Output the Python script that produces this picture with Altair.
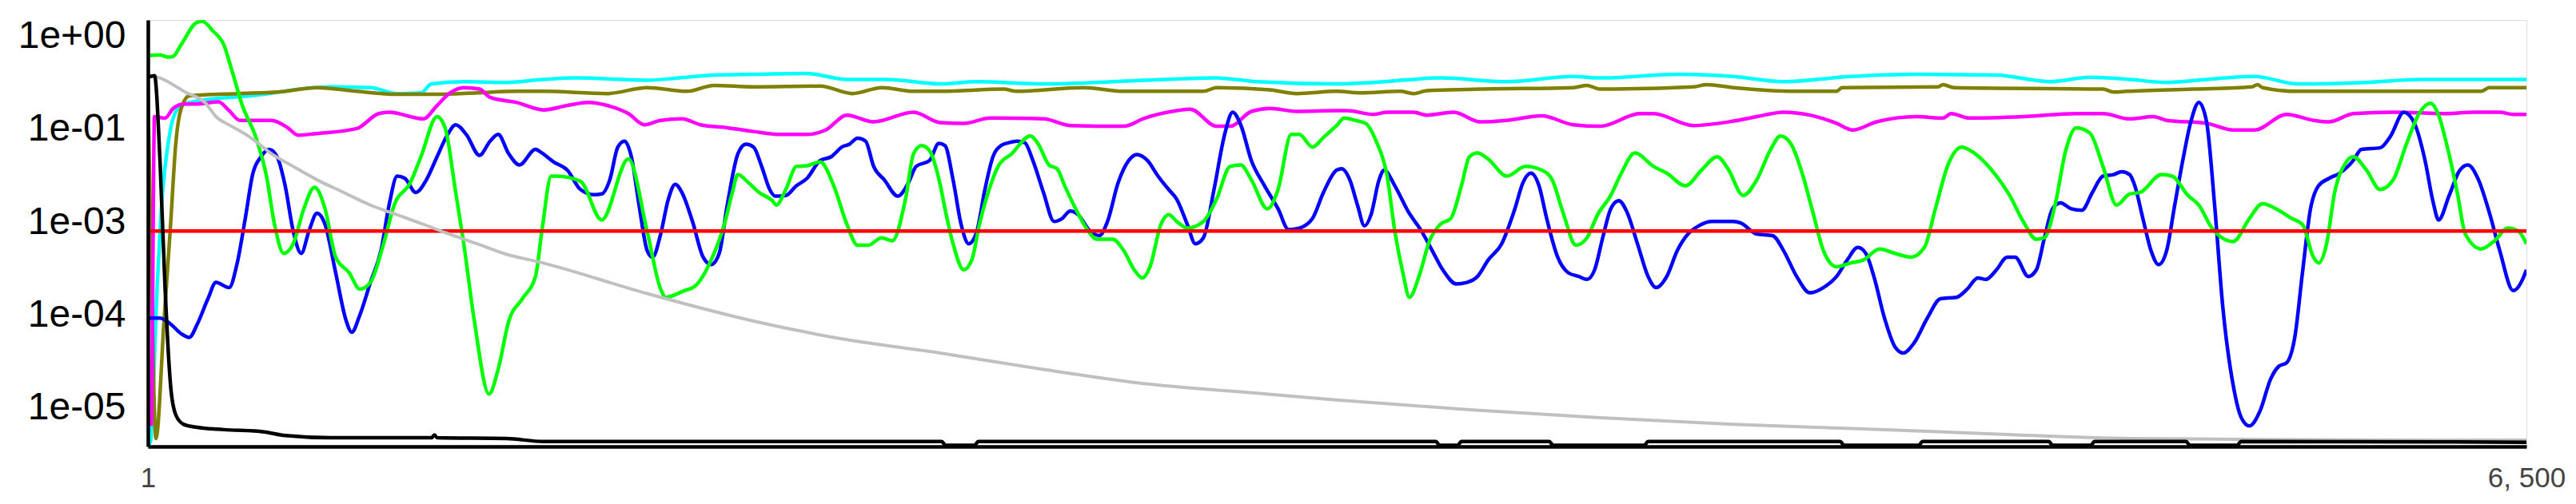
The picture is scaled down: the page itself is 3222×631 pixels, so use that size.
import altair as alt
import pandas as pd

# ---------------- axis settings ----------------
x_tick_values = [1, 6500]
x_tick_labels = ["1", "6, 500"]
y_tick_exponents = [0, -1.25, -2.5, -3.75, -5]
y_tick_labels = ["1e+00", "1e-01", "1e-03", "1e-04", "1e-05"]
y_exp_domain = [-5.517, 0.22]

# ---------------- data (x, log10 of value) ----------------
black_x = [1, 19, 34, 48, 63, 77, 99, 136, 208, 318,
           376, 500, 776, 784, 791, 980, 1082, 2170, 2180, 2260,
           2270, 3520, 3530, 3580, 3590, 3830, 3840, 4090, 4100, 4625,
           4635, 4840, 4850, 5195, 5205, 5310, 5320, 5570, 5580, 5710,
           5720, 6500]
black_e = [-0.55, -0.53, -1.67, -3.40, -4.70, -5.09, -5.22, -5.26, -5.29, -5.32,
           -5.37, -5.40, -5.40, -5.36, -5.40, -5.41, -5.45, -5.45, -5.50, -5.50,
           -5.45, -5.45, -5.50, -5.50, -5.45, -5.45, -5.50, -5.50, -5.45, -5.45,
           -5.50, -5.50, -5.45, -5.45, -5.50, -5.50, -5.45, -5.45, -5.50, -5.50,
           -5.45, -5.46]

gray_x = [1, 12, 107, 157, 187, 230, 281, 339, 398, 463,
          536, 609, 682, 754, 813, 900, 973, 1082, 1365, 1656,
          1875, 2166, 2448, 2739, 3031, 3249, 3605, 3969, 4333, 4688,
          5052, 5416, 5699, 6136, 6500]
gray_e = [-0.55, -0.54, -0.76, -0.89, -1.08, -1.21, -1.36, -1.58, -1.75, -1.93,
          -2.10, -2.27, -2.40, -2.53, -2.64, -2.79, -2.92, -3.05, -3.46, -3.83,
          -4.05, -4.26, -4.48, -4.68, -4.80, -4.89, -5.02, -5.13, -5.22, -5.28,
          -5.35, -5.41, -5.42, -5.43, -5.43]

red_x = [1, 6500]
red_e = [-2.62, -2.62]

cyan_x = [1, 8, 26, 41, 56, 70, 92, 136, 281, 500,
          609, 682, 747, 776, 864, 973, 1082, 1169, 1365, 1453,
          1547, 1656, 1802, 1911, 2020, 2166, 2266, 2448, 2776, 2921,
          3031, 3249, 3350, 3532, 3714, 3896, 3969, 4187, 4333, 4470,
          4652, 4834, 5052, 5198, 5307, 5416, 5517, 5626, 5757, 5874,
          6063, 6209, 6500]
cyan_e = [-5.50, -5.45, -3.40, -2.10, -1.45, -1.10, -0.93, -0.87, -0.80, -0.68,
          -0.69, -0.77, -0.76, -0.64, -0.61, -0.62, -0.58, -0.56, -0.59, -0.56,
          -0.52, -0.51, -0.50, -0.58, -0.58, -0.64, -0.61, -0.64, -0.58, -0.56,
          -0.61, -0.64, -0.62, -0.56, -0.61, -0.54, -0.56, -0.51, -0.54, -0.61,
          -0.54, -0.51, -0.52, -0.61, -0.55, -0.58, -0.62, -0.58, -0.54, -0.64,
          -0.62, -0.58, -0.58]

olive_x = [1, 8, 23, 45, 63, 77, 92, 114, 245, 354,
           463, 572, 682, 791, 900, 1009, 1082, 1256, 1365, 1474,
           1547, 1656, 1838, 1926, 2006, 2093, 2166, 2339, 2375, 2557,
           2667, 2885, 2921, 3067, 3140, 3249, 3314, 3423, 3459, 3496,
           3641, 3896, 3933, 3969, 4224, 4260, 4333, 4506, 4615, 4630,
           4892, 4906, 4936, 5343, 5372, 5408, 5590, 5750, 5765, 5779,
           5874, 6376, 6398, 6500]
olive_e = [-0.76, -2.50, -5.41, -3.83, -2.53, -1.45, -0.97, -0.80, -0.77, -0.75,
           -0.69, -0.74, -0.78, -0.78, -0.76, -0.74, -0.74, -0.77, -0.69, -0.74,
           -0.66, -0.68, -0.67, -0.77, -0.69, -0.74, -0.74, -0.71, -0.74, -0.69,
           -0.74, -0.74, -0.69, -0.72, -0.77, -0.74, -0.76, -0.74, -0.77, -0.73,
           -0.71, -0.69, -0.66, -0.71, -0.68, -0.65, -0.69, -0.74, -0.74, -0.69,
           -0.68, -0.65, -0.69, -0.71, -0.75, -0.74, -0.71, -0.68, -0.65, -0.69,
           -0.74, -0.74, -0.69, -0.69]

magenta_x = [1, 10, 19, 48, 70, 99, 136, 194, 223, 252,
             339, 383, 412, 456, 572, 631, 660, 754, 791, 827,
             864, 907, 936, 1009, 1082, 1147, 1205, 1256, 1314, 1358,
             1402, 1460, 1511, 1584, 1656, 1729, 1802, 1853, 1911, 1984,
             2093, 2166, 2230, 2303, 2448, 2521, 2667, 2725, 2812, 2849,
             2921, 2958, 3016, 3067, 3140, 3249, 3277, 3350, 3387, 3459,
             3496, 3569, 3641, 3714, 3809, 3896, 3969, 4078, 4115, 4224,
             4333, 4397, 4470, 4542, 4615, 4659, 4724, 4834, 4906, 4928,
             4979, 5125, 5270, 5343, 5416, 5481, 5517, 5626, 5699, 5757,
             5845, 5918, 5961, 6027, 6136, 6282, 6354, 6427, 6464, 6500]
magenta_e = [-5.22, -5.22, -1.08, -1.10, -0.97, -0.91, -0.91, -0.88, -1.00, -1.13,
             -1.13, -1.23, -1.33, -1.31, -1.24, -1.04, -1.02, -1.11, -0.93, -0.76,
             -0.69, -0.71, -0.82, -0.89, -0.99, -0.93, -0.89, -0.93, -1.04, -1.19,
             -1.13, -1.11, -1.19, -1.23, -1.28, -1.32, -1.32, -1.26, -1.06, -1.15,
             -1.02, -1.16, -1.17, -1.10, -1.11, -1.20, -1.21, -1.10, -1.00, -0.98,
             -1.21, -1.21, -1.01, -0.97, -1.01, -1.00, -1.00, -1.05, -1.02, -1.02,
             -1.06, -1.02, -1.15, -1.13, -1.07, -1.19, -1.21, -1.04, -1.04, -1.20,
             -1.14, -1.08, -1.02, -1.06, -1.17, -1.26, -1.15, -1.08, -1.10, -1.04,
             -1.10, -1.08, -1.04, -1.04, -1.11, -1.08, -1.13, -1.17, -1.26, -1.26,
             -1.05, -1.13, -1.15, -1.04, -1.02, -1.04, -1.02, -1.02, -1.05, -1.05]

green_x = [1, 34, 56, 70, 92, 136, 150, 179, 208, 230,
           259, 296, 325, 347, 372, 398, 427, 456, 485, 514,
           551, 580, 609, 645, 674, 718, 747, 791, 813, 842,
           864, 893, 933, 958, 987, 1024, 1060, 1078, 1103, 1118,
           1183, 1241, 1314, 1365, 1402, 1416, 1467, 1496, 1540, 1576,
           1598, 1613, 1642, 1671, 1707, 1718, 1744, 1773, 1802, 1838,
           1875, 1911, 1940, 1969, 2006, 2035, 2071, 2093, 2115, 2137,
           2166, 2179, 2201, 2230, 2252, 2273, 2303, 2324, 2361, 2412,
           2434, 2463, 2485, 2506, 2536, 2565, 2594, 2637, 2667, 2696,
           2718, 2739, 2769, 2790, 2812, 2841, 2885, 2921, 2958, 2987,
           3016, 3060, 3089, 3125, 3147, 3183, 3213, 3249, 3270, 3299,
           3328, 3357, 3387, 3408, 3430, 3448, 3474, 3503, 3532, 3561,
           3590, 3612, 3634, 3663, 3714, 3765, 3809, 3838, 3867, 3903,
           3933, 3962, 3998, 4027, 4064, 4115, 4151, 4202, 4246, 4289,
           4318, 4360, 4397, 4433, 4462, 4491, 4521, 4550, 4579, 4615,
           4652, 4688, 4732, 4775, 4819, 4855, 4885, 4921, 4957, 4994,
           5052, 5088, 5125, 5161, 5183, 5212, 5241, 5270, 5307, 5343,
           5380, 5416, 5444, 5503, 5532, 5575, 5605, 5641, 5699, 5743,
           5779, 5816, 5859, 5888, 5918, 5932, 5954, 5976, 6005, 6027,
           6063, 6100, 6136, 6172, 6209, 6238, 6260, 6282, 6311, 6333,
           6376, 6413, 6449, 6478, 6500]
green_e = [-0.26, -0.25, -0.28, -0.27, -0.11, 0.19, 0.20, 0.07, -0.11, -0.45,
           -0.93, -1.36, -1.88, -2.53, -2.92, -2.79, -2.32, -2.03, -2.32, -2.97,
           -3.18, -3.40, -3.31, -2.79, -2.27, -1.97, -1.62, -1.08, -1.23, -2.10,
           -2.79, -3.83, -4.81, -4.48, -3.83, -3.53, -3.23, -2.60, -1.88, -1.88,
           -1.95, -2.47, -1.65, -2.62, -3.40, -3.51, -3.42, -3.36, -3.01, -2.53,
           -2.10, -1.86, -1.97, -2.10, -2.21, -2.27, -2.06, -1.75, -1.74, -1.69,
           -2.01, -2.53, -2.81, -2.81, -2.71, -2.75, -2.19, -1.58, -1.47, -1.54,
           -2.00, -2.32, -2.79, -3.14, -3.01, -2.53, -2.01, -1.75, -1.58, -1.34,
           -1.45, -1.73, -1.78, -2.01, -2.32, -2.58, -2.73, -2.73, -2.88, -3.14,
           -3.25, -3.10, -2.53, -2.40, -2.49, -2.58, -2.49, -2.19, -1.75, -1.73,
           -1.93, -2.32, -2.06, -1.32, -1.32, -1.49, -1.36, -1.20, -1.10, -1.13,
           -1.17, -1.41, -1.88, -2.62, -3.18, -3.51, -3.23, -2.75, -2.53, -2.45,
           -2.01, -1.62, -1.57, -1.65, -1.88, -1.75, -1.80, -1.93, -2.36, -2.81,
           -2.71, -2.40, -2.14, -1.84, -1.57, -1.75, -1.84, -2.01, -1.80, -1.62,
           -1.78, -2.14, -1.93, -1.54, -1.34, -1.45, -1.84, -2.36, -2.88, -3.10,
           -3.05, -3.01, -2.86, -2.92, -2.97, -2.84, -2.32, -1.71, -1.49, -1.58,
           -1.88, -2.14, -2.49, -2.73, -2.71, -2.27, -1.54, -1.23, -1.30, -1.75,
           -2.27, -2.12, -2.10, -1.86, -1.88, -2.14, -2.27, -2.58, -2.76, -2.45,
           -2.25, -2.32, -2.45, -2.53, -2.97, -3.05, -2.79, -2.10, -1.71, -1.62,
           -1.80, -2.06, -1.93, -1.45, -1.02, -0.90, -1.06, -1.45, -2.10, -2.66,
           -2.86, -2.75, -2.58, -2.62, -2.79]

blue_x = [1, 34, 63, 92, 114, 136, 165, 187, 223, 245,
          267, 288, 310, 332, 354, 376, 398, 420, 441, 463,
          485, 514, 543, 558, 580, 609, 638, 660, 682, 703,
          733, 762, 791, 820, 842, 871, 907, 936, 958, 987,
          1016, 1060, 1078, 1110, 1147, 1183, 1220, 1241, 1263, 1285,
          1303, 1322, 1343, 1365, 1380, 1402, 1423, 1442, 1460, 1489,
          1518, 1540, 1562, 1584, 1613, 1635, 1656, 1678, 1700, 1715,
          1744, 1773, 1802, 1838, 1868, 1897, 1918, 1940, 1962, 1984,
          2013, 2050, 2079, 2100, 2137, 2162, 2179, 2201, 2223, 2244,
          2266, 2288, 2310, 2332, 2354, 2375, 2397, 2419, 2448, 2477,
          2499, 2521, 2543, 2572, 2601, 2623, 2652, 2681, 2703, 2732,
          2761, 2790, 2812, 2841, 2863, 2885, 2914, 2943, 2965, 2987,
          3016, 3052, 3089, 3118, 3147, 3183, 3213, 3249, 3263, 3285,
          3306, 3325, 3343, 3365, 3379, 3408, 3445, 3481, 3510, 3539,
          3576, 3605, 3634, 3663, 3700, 3736, 3758, 3780, 3802, 3823,
          3853, 3882, 3911, 3933, 3954, 3976, 3998, 4020, 4042, 4071,
          4100, 4122, 4151, 4180, 4209, 4238, 4275, 4333, 4353, 4397,
          4440, 4470, 4506, 4542, 4579, 4615, 4644, 4673, 4695, 4717,
          4746, 4775, 4797, 4826, 4863, 4899, 4943, 4972, 5001, 5023,
          5052, 5081, 5103, 5139, 5161, 5183, 5205, 5227, 5256, 5285,
          5314, 5343, 5372, 5394, 5416, 5430, 5452, 5474, 5495, 5517,
          5539, 5561, 5583, 5605, 5626, 5648, 5670, 5699, 5721, 5743,
          5772, 5801, 5823, 5845, 5867, 5888, 5910, 5932, 5961, 5990,
          6027, 6049, 6100, 6129, 6165, 6194, 6223, 6245, 6260, 6289,
          6318, 6340, 6369, 6398, 6427, 6464, 6493, 6500]
blue_e = [-3.79, -3.79, -3.87, -4.00, -4.05, -3.87, -3.53, -3.31, -3.38, -3.05,
          -2.45, -1.84, -1.62, -1.52, -1.62, -2.01, -2.62, -2.92, -2.62, -2.38,
          -2.53, -3.18, -3.83, -3.98, -3.75, -3.31, -2.88, -2.27, -1.88, -1.91,
          -2.10, -1.93, -1.62, -1.32, -1.19, -1.32, -1.60, -1.41, -1.32, -1.58,
          -1.73, -1.52, -1.57, -1.69, -1.80, -2.06, -2.13, -2.12, -1.93, -1.49,
          -1.41, -1.62, -2.27, -2.88, -2.97, -2.66, -2.19, -1.99, -2.10, -2.49,
          -2.97, -3.07, -2.92, -2.27, -1.58, -1.45, -1.49, -1.75, -2.06, -2.15,
          -2.14, -2.01, -1.91, -1.67, -1.62, -1.49, -1.45, -1.37, -1.41, -1.75,
          -1.93, -2.15, -1.97, -1.75, -1.67, -1.44, -1.47, -1.93, -2.53, -2.79,
          -2.62, -2.06, -1.62, -1.47, -1.43, -1.41, -1.43, -1.67, -2.10, -2.49,
          -2.45, -2.35, -2.40, -2.60, -2.68, -2.49, -1.97, -1.67, -1.59, -1.67,
          -1.88, -2.06, -2.19, -2.53, -2.79, -2.71, -2.06, -1.32, -1.02, -1.19,
          -1.67, -2.01, -2.32, -2.60, -2.58, -2.45, -2.10, -1.80, -1.78, -1.93,
          -2.27, -2.55, -2.40, -1.93, -1.80, -2.01, -2.36, -2.62, -2.88, -3.14,
          -3.33, -3.31, -3.23, -3.01, -2.79, -2.32, -1.97, -1.84, -2.01, -2.45,
          -2.97, -3.18, -3.23, -3.27, -3.14, -2.71, -2.32, -2.21, -2.36, -2.79,
          -3.23, -3.38, -3.23, -2.88, -2.66, -2.55, -2.49, -2.49, -2.51, -2.66,
          -2.68, -2.88, -3.23, -3.45, -3.38, -3.23, -3.01, -2.84, -2.92, -3.23,
          -3.79, -4.18, -4.26, -4.13, -3.79, -3.53, -3.51, -3.40, -3.25, -3.27,
          -3.14, -2.97, -2.97, -3.23, -3.14, -2.71, -2.32, -2.24, -2.32, -2.34,
          -2.10, -1.88, -1.86, -1.82, -1.86, -2.01, -2.45, -2.88, -3.07, -2.88,
          -2.27, -1.67, -1.15, -0.89, -1.15, -2.27, -3.62, -4.70, -5.13, -5.24,
          -5.04, -4.61, -4.44, -4.39, -4.05, -3.18, -2.32, -2.01, -1.91, -1.84,
          -1.67, -1.52, -1.50, -1.34, -1.02, -1.17, -1.67, -2.23, -2.47, -2.14,
          -1.80, -1.73, -1.93, -2.36, -2.88, -3.42, -3.23, -3.14]

# drawing order (bottom -> top), colour, stroke width
series = [
    ("cyan", cyan_x, cyan_e, "#00ffff", 4.5),
    ("olive", olive_x, olive_e, "#808000", 4.5),
    ("magenta", magenta_x, magenta_e, "#ff00ff", 4.5),
    ("blue", blue_x, blue_e, "#0000ff", 4.5),
    ("green", green_x, green_e, "#00ff00", 4.5),
    ("red", red_x, red_e, "#ff0000", 4.5),
    ("gray", gray_x, gray_e, "#c0c0c0", 4),
    ("black", black_x, black_e, "#000000", 4.5),
]

rows = []
for name, xs, es, _, _ in series:
    for i, (x, e) in enumerate(zip(xs, es)):
        rows.append({"series": name, "x": x, "v": 10 ** e, "order": i})
df = pd.DataFrame(rows)

# label expressions built from the label lists
y_tick_values = [10 ** e for e in y_tick_exponents]
y_expr = "'" + y_tick_labels[-1] + "'"
for v, lab in reversed(list(zip(y_tick_values[:-1], y_tick_labels[:-1]))):
    y_expr = f"datum.value >= {v * 0.9} ? '{lab}' : ({y_expr})"
x_expr = "'" + x_tick_labels[-1] + "'"
for v, lab in reversed(list(zip(x_tick_values[:-1], x_tick_labels[:-1]))):
    x_expr = f"datum.value <= {v + 1} ? '{lab}' : ({x_expr})"

FONT = "Liberation Sans, Arial, sans-serif"

x_enc = alt.X(
    "x:Q",
    scale=alt.Scale(domain=[1, 6500], nice=False, zero=False),
    axis=alt.Axis(values=x_tick_values, labelExpr=x_expr, title=None, grid=False,
                  ticks=False, tickSize=0, domainColor="black", domainWidth=4.5,
                  labelFont=FONT, labelFontSize=35, labelColor="#444444",
                  labelPadding=22, labelFlush=False, labelOverlap=False, zindex=1),
)
y_enc = alt.Y(
    "v:Q",
    scale=alt.Scale(type="log", domain=[10 ** y_exp_domain[0], 10 ** y_exp_domain[1]], nice=False),
    axis=alt.Axis(values=y_tick_values, labelExpr=y_expr, title=None, grid=False,
                  ticks=False, tickSize=0, domainColor="black", domainWidth=4.5,
                  labelFont=FONT, labelFontSize=48, labelColor="black",
                  labelPadding=28, labelOverlap=False, zindex=1),
)

layers = []
for name, _, _, color, width in series:
    layers.append(
        alt.Chart(df)
        .transform_filter(alt.datum.series == name)
        .mark_line(color=color, strokeWidth=width, interpolate="monotone", clip=True)
        .encode(x=x_enc, y=y_enc, order="order:Q")
    )

chart = (
    alt.layer(*layers)
    .properties(width=2975, height=534,
                autosize=alt.AutoSizeParams(type="none"),
                padding={"left": 177, "top": 17, "right": 52, "bottom": 60})
    .configure_view(stroke="transparent", strokeWidth=0)
    .configure(background="white")
)

chart.save("out.html", embed_options={"renderer": "svg", "actions": False})
